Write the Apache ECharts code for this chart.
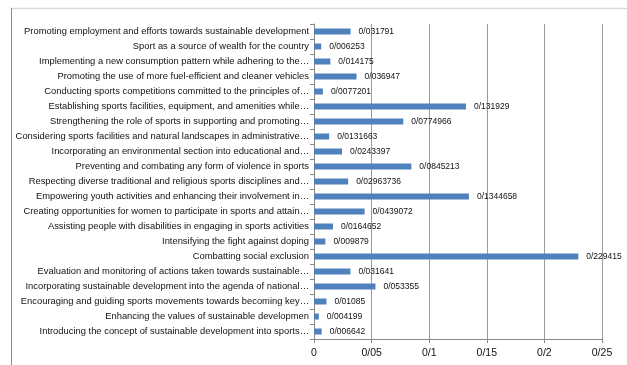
<!DOCTYPE html>
<html>
<head>
<meta charset="utf-8">
<script src="https://cdn.jsdelivr.net/npm/echarts@6/dist/echarts.min.js"></script>
<style>html,body{margin:0;padding:0;background:#fff}#c{width:627px;height:365px}</style>
</head>
<body>
<div id="c"></div>
<script>
const categories = [
  "Promoting employment and efforts towards sustainable development",
  "Sport as a source of wealth for the country",
  "Implementing a new consumption pattern while adhering to the…",
  "Promoting the use of more fuel-efficient and cleaner vehicles",
  "Conducting sports competitions committed to the principles of…",
  "Establishing sports facilities, equipment, and amenities while…",
  "Strengthening the role of sports in supporting and promoting…",
  "Considering sports facilities and natural landscapes in administrative…",
  "Incorporating an environmental section into educational and…",
  "Preventing and combating any form of violence in sports",
  "Respecting diverse traditional and religious sports disciplines and…",
  "Empowering youth activities and enhancing their involvement in…",
  "Creating opportunities for women to participate in sports and attain…",
  "Assisting people with disabilities in engaging in sports activities",
  "Intensifying the fight against doping",
  "Combatting social exclusion",
  "Evaluation and monitoring of actions taken towards sustainable…",
  "Incorporating sustainable development into the agenda of national…",
  "Encouraging and guiding sports movements towards becoming key…",
  "Enhancing the values of sustainable developmen",
  "Introducing the concept of sustainable development into sports…"
];
const values = [
  0.031791, 0.006253, 0.014175, 0.036947, 0.0077201, 0.131929, 0.0774966,
  0.0131663, 0.0243397, 0.0845213, 0.02963736, 0.1344658, 0.0439072, 0.0164652,
  0.009879, 0.229415, 0.031641, 0.053355, 0.01085, 0.004199, 0.006642
];
const valueLabels = [
  "0/031791", "0/006253", "0/014175", "0/036947", "0/0077201", "0/131929", "0/0774966",
  "0/0131663", "0/0243397", "0/0845213", "0/02963736", "0/1344658", "0/0439072", "0/0164652",
  "0/009879", "0/229415", "0/031641", "0/053355", "0/01085", "0/004199", "0/006642"
];
const xTicks = ["0", "0/05", "0/1", "0/15", "0/2", "0/25"];

const FONT = '"Liberation Sans", Arial, sans-serif';
const chart = echarts.init(document.getElementById('c'), null, {renderer: 'canvas'});
chart.setOption({
  animation: false,
  backgroundColor: '#fff',
  graphic: [
    {type: 'line', shape: {x1: 11, y1: 8.5, x2: 627, y2: 8.5}, style: {stroke: '#d9d9d9', lineWidth: 1.5}},
    {type: 'line', shape: {x1: 11.5, y1: 8, x2: 11.5, y2: 365}, style: {stroke: '#8c8c8c', lineWidth: 1}}
  ],
  grid: {left: 314, right: 25, top: 24, bottom: 26, containLabel: false, outerBoundsMode: 'none'},
  xAxis: {
    type: 'value', min: 0, max: 0.25, interval: 0.05,
    axisLine: {show: true, lineStyle: {color: '#888', width: 1}},
    axisTick: {show: true, length: 4, lineStyle: {color: '#888'}},
    splitLine: {show: true, lineStyle: {color: '#9a9a9a', width: 1}},
    axisLabel: {
      margin: 9, color: '#111', fontFamily: FONT, fontSize: 10.5,
      formatter: function (v) { return xTicks[Math.round(v / 0.05)]; }
    }
  },
  yAxis: {
    type: 'category', inverse: true, data: categories,
    axisLine: {show: true, lineStyle: {color: '#888', width: 1}},
    axisTick: {show: true, length: 4, inside: false, lineStyle: {color: '#888'}},
    axisLabel: {margin: 5, color: '#111', fontFamily: FONT, fontSize: 9.4}
  },
  series: [{
    type: 'bar', data: values, barWidth: 6,
    itemStyle: {color: '#4f81bd'},
    label: {
      show: true, position: 'right', distance: 8, color: '#111',
      fontFamily: FONT, fontSize: 8.5,
      formatter: function (p) { return valueLabels[p.dataIndex]; }
    }
  }]
});
</script>
</body>
</html>
